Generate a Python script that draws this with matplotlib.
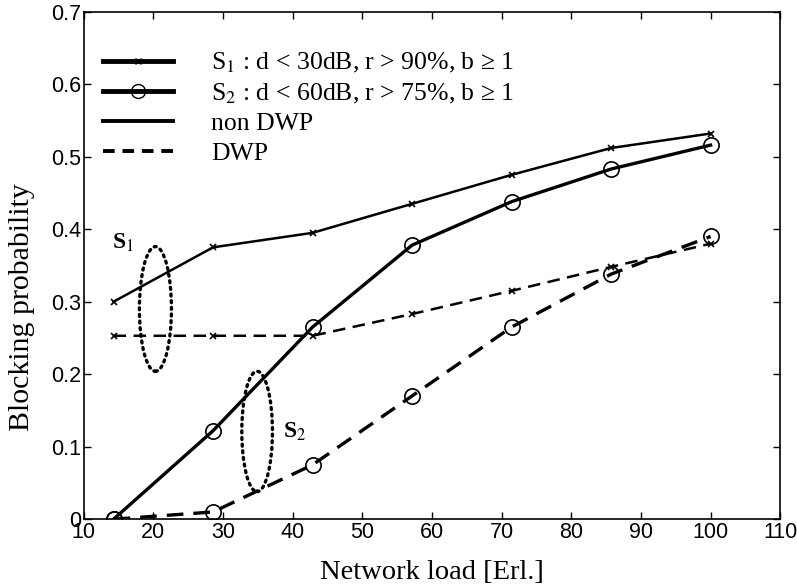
import numpy as np
import matplotlib
matplotlib.use("Agg")
import matplotlib.pyplot as plt
from matplotlib.patches import Ellipse
from matplotlib.lines import Line2D

plt.rcParams['mathtext.fontset'] = 'stix'

load = [14.29, 28.57, 42.86, 57.14, 71.43, 85.71, 100.0]
s1_nondwp = [0.300, 0.375, 0.395, 0.435, 0.475, 0.512, 0.532]
s1_dwp = [0.253, 0.253, 0.253, 0.283, 0.315, 0.348, 0.380]
s2_nondwp = [0.000, 0.122, 0.265, 0.378, 0.438, 0.483, 0.516]
s2_dwp = [0.000, 0.010, 0.075, 0.170, 0.265, 0.338, 0.390]

legend_labels = ["S$_1$ : d < 30dB, r > 90%, b ≥ 1",
                 "S$_2$ : d < 60dB, r > 75%, b ≥ 1",
                 "non DWP", "DWP"]

fig = plt.figure(figsize=(7.97, 5.86), dpi=100)
ax = fig.add_axes([0.105, 0.114, 0.874, 0.866])

ax.plot(load, s1_nondwp, '-', color='black', lw=1.8, marker='x', ms=5, mew=1.2)
ax.plot(load, s1_dwp, '--', color='black', lw=1.8, marker='x', ms=5, mew=1.2, dashes=(5, 3))
ax.plot(load, s2_nondwp, '-', color='black', lw=2.4, marker='o', ms=11, mfc='none', mew=1.2)
ax.plot(load, s2_dwp, '--', color='black', lw=2.4, marker='o', ms=11, mfc='none', mew=1.2, dashes=(5, 3))

dot = (0, (0.6, 1.4))
ax.add_patch(Ellipse((20.3, 0.29), 4.6, 0.172, fill=False, ls=dot, lw=2.4,
                     color='black', capstyle='round'))
ax.add_patch(Ellipse((34.9, 0.121), 4.4, 0.166, fill=False, ls=dot, lw=2.4,
                     color='black', capstyle='round'))
ax.text(14.0, 0.381, "S$_1$", fontsize=17, fontweight='bold', family='Liberation Serif',
        ha='left', va='center')
ax.text(38.6, 0.121, "S$_2$", fontsize=17, fontweight='bold', family='Liberation Serif',
        ha='left', va='center')

handles = [Line2D([], [], color='black', lw=3.5, marker='x', ms=4, markevery=[1]),
           Line2D([], [], color='black', lw=3.5, marker='o', ms=10, mfc='none', markevery=[1]),
           Line2D([], [], color='black', lw=2.8),
           Line2D([], [], color='black', lw=2.8, ls='--', dashes=(3, 2))]
for h in handles:
    h.set_xdata([0, 0.5, 1]); h.set_ydata([0, 0, 0])
leg = ax.legend(handles, legend_labels, loc='upper left', frameon=False,
                prop={'family': 'Liberation Serif', 'size': 18.5},
                handlelength=2.7, handletextpad=1.5, labelspacing=0.25,
                bbox_to_anchor=(-0.005, 0.968), borderaxespad=0.5)

ax.set_xlim(10, 110)
ax.set_ylim(0, 0.7)
ax.set_xticks(np.arange(10, 111, 10))
ax.set_yticks(np.arange(0, 0.71, 0.1))
ax.set_yticklabels(['0', '0.1', '0.2', '0.3', '0.4', '0.5', '0.6', '0.7'])
ax.tick_params(direction='in', top=True, right=True, length=5, width=1,
               labelsize=15.5, pad=2)
for lab in ax.get_xticklabels() + ax.get_yticklabels():
    lab.set_family('Liberation Sans')
for sp in ax.spines.values():
    sp.set_linewidth(1.2)

ax.set_xlabel("Network load [Erl.]", family='Liberation Serif', fontsize=20.5, labelpad=12)
ax.set_ylabel("Blocking probability", family='Liberation Serif', fontsize=21.5,
              va='center', ha='center')
ax.yaxis.set_label_coords(-0.089, 0.418)

fig.savefig("out.png", dpi=100)
